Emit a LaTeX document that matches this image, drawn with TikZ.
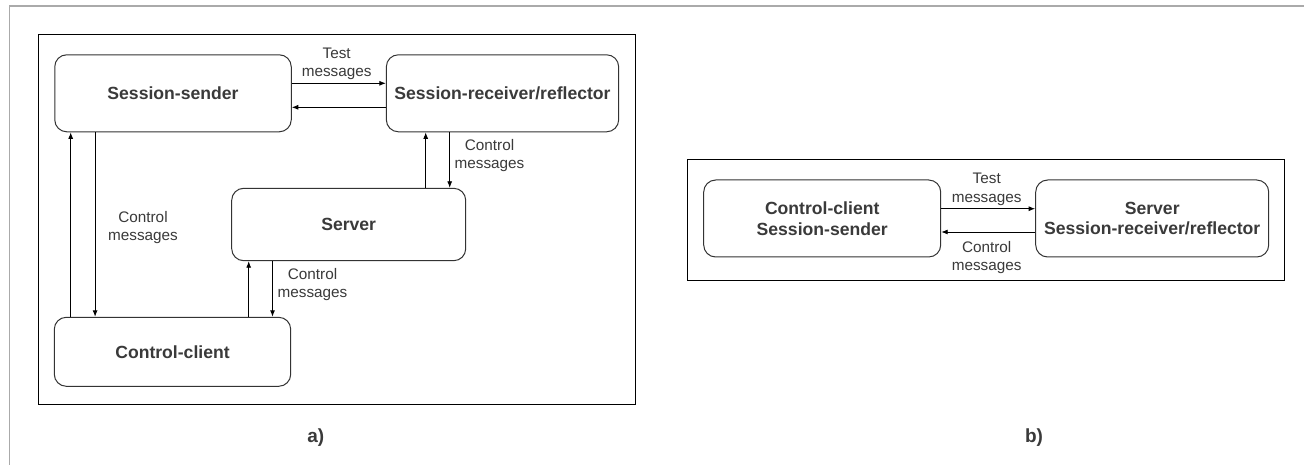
\documentclass[tikz,border=0pt]{standalone}
\usepackage{fontspec}
\setmainfont{Liberation Sans}
\usetikzlibrary{arrows.meta}
\definecolor{txt}{HTML}{3A3A3A}
\definecolor{boxline}{HTML}{333333}
\definecolor{outer}{HTML}{AAAAAA}
\tikzset{
  blk/.style={draw=boxline, line width=1pt, rounded corners=12pt, rectangle,
    inner sep=0pt, text=txt, font=\fontsize{17.6}{20.7}\selectfont\bfseries, align=center},
  frm/.style={draw=black, line width=1pt},
  arr/.style={draw=black, line width=0.9pt, -{Latex[length=6.5pt,width=5pt]}},
  lbl/.style={text=txt, font=\fontsize{15.3}{18.4}\selectfont, align=center, inner sep=0pt},
  captxt/.style={text=txt, font=\fontsize{19}{22}\selectfont\bfseries, inner sep=0pt}
}
\begin{document}
\begin{tikzpicture}[x=1pt,y=-1pt]
\useasboundingbox (0,0) rectangle (1304,465);
\fill[white] (0,0) rectangle (1304,465);
% outer gray border (top and left)
\draw[outer, line width=1.3pt] (9.3,465) -- (9.3,6) -- (1304,6);

% ---- panel a ----
\node[frm, rectangle, minimum width=597.2pt, minimum height=369.7pt, inner sep=0pt] (fa) at (336.9,219.15) {};
\node[blk, minimum width=236.5pt, minimum height=77pt] (SS) at (173,93.3) {Session-sender};
\node[blk, minimum width=232.3pt, minimum height=77pt] (SR) at (502.5,93.3) {Session-receiver/reflector};
\node[blk, minimum width=234pt, minimum height=72.4pt] (SV) at (348.7,224.5) {Server};
\node[blk, minimum width=236.4pt, minimum height=69pt] (CC) at (172.5,351.8) {Control-client};

\coordinate (ya1) at (0,83.3);
\coordinate (ya2) at (0,107.3);
\draw[arr] (SS.east |- ya1) -- (SR.west |- ya1);
\draw[arr] (SR.west |- ya2) -- (SS.east |- ya2);

\coordinate (xl1) at (70.7,0);
\coordinate (xl2) at (95.1,0);
\draw[arr] (xl1 |- CC.north) -- (xl1 |- SS.south);
\draw[arr] (xl2 |- SS.south) -- (xl2 |- CC.north);

\coordinate (xr1) at (425.7,0);
\coordinate (xr2) at (449.7,0);
\draw[arr] (xr1 |- SV.north) -- (xr1 |- SR.south);
\draw[arr] (xr2 |- SR.south) -- (xr2 |- SV.north);

\coordinate (xm1) at (248.7,0);
\coordinate (xm2) at (272.5,0);
\draw[arr] (xm1 |- CC.north) -- (xm1 |- SV.south);
\draw[arr] (xm2 |- SV.south) -- (xm2 |- CC.north);

\node[lbl] (ta) at (336.7,64) {Test\\messages};
\node[lbl] (cl) at (143,227.5) {Control\\messages};
\node[lbl] (cr) at (489.5,155.5) {Control\\messages};
\node[lbl] (cm) at (312.5,284.5) {Control\\messages};
\node[captxt] (capa) at (315.7,438) {a)};

% ---- panel b ----
\node[frm, rectangle, minimum width=596.6pt, minimum height=120.7pt, inner sep=0pt] (fb) at (986,219.65) {};
\node[blk, minimum width=237pt, minimum height=77pt] (B1) at (822.2,218.5) {Control-client\\Session-sender};
\node[blk, minimum width=233pt, minimum height=77pt] (B2) at (1152.2,218.5) {Server\\Session-receiver/reflector};
\coordinate (yb1) at (0,208.7);
\coordinate (yb2) at (0,232);
\draw[arr] (B1.east |- yb1) -- (B2.west |- yb1);
\draw[arr] (B2.west |- yb2) -- (B1.east |- yb2);
\node[lbl] (tb) at (986.7,189.5) {Test\\messages};
\node[lbl] (cb) at (986.7,257.5) {Control\\messages};
\node[captxt] (capb) at (1034,438) {b)};
\end{tikzpicture}
\end{document}
